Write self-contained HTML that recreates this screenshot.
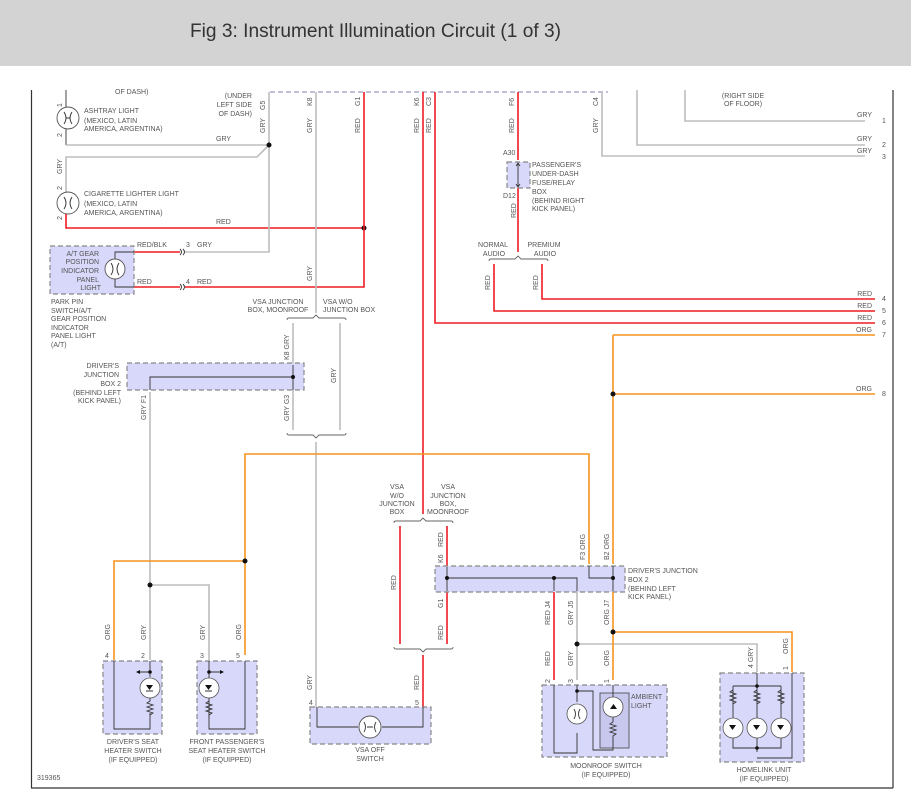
<!DOCTYPE html>
<html><head><meta charset="utf-8"><style>
html,body{margin:0;padding:0;background:#fff;}
svg{display:block;font-family:"Liberation Sans",sans-serif;}
.t{font-size:7px;fill:#555;}
.g{stroke:#bdbdbd;stroke-width:1.6;fill:none}
.r{stroke:#ee1c24;stroke-width:1.6;fill:none}
.o{stroke:#f7941d;stroke-width:1.6;fill:none}
.k{stroke:#333;stroke-width:0.9;fill:none}
.box{fill:#d8d8fa;stroke:#888;stroke-width:1.2;stroke-dasharray:5,3}
.br{stroke:#666;stroke-width:0.9;fill:none}
</style></head><body>
<svg width="911" height="803" viewBox="0 0 911 803" xmlns="http://www.w3.org/2000/svg">
<rect x="0" y="0" width="911" height="66" fill="#d3d3d3"/>
<text x="190" y="37" font-size="19" fill="#333" style="font-family:'Liberation Sans Narrow','Liberation Sans',sans-serif" textLength="371" lengthAdjust="spacingAndGlyphs">Fig 3: Instrument Illumination Circuit (1 of 3)</text>
<!-- borders -->
<line x1="31.5" y1="90" x2="31.5" y2="788" stroke="#333" stroke-width="1.2"/>
<line x1="893" y1="90" x2="893" y2="788" stroke="#333" stroke-width="1.2"/>
<line x1="31" y1="788" x2="893" y2="788" stroke="#333" stroke-width="1.2"/>
<line x1="270" y1="92" x2="608" y2="92" stroke="#9a9ac0" stroke-width="1.2" stroke-dasharray="5,3"/>

<!-- top-left labels -->
<text class="t" x="115" y="94">OF DASH)</text>
<text class="t" x="252" y="98" text-anchor="end">(UNDER</text>
<text class="t" x="252" y="107" text-anchor="end">LEFT SIDE</text>
<text class="t" x="252" y="116" text-anchor="end">OF DASH)</text>
<text class="t" x="743" y="98" text-anchor="middle">(RIGHT SIDE</text>
<text class="t" x="743" y="106" text-anchor="middle">OF FLOOR)</text>

<!-- ashtray -->
<path class="k" d="M66 90V107M66 129V145"/>
<circle cx="68" cy="118" r="11" fill="#fff" stroke="#555" stroke-width="0.9"/>
<path class="k" d="M64 112q4 6 0 12M72 112q-4 6 0 12M66 118h4"/>
<text class="t" x="84" y="113">ASHTRAY LIGHT</text>
<text class="t" x="84" y="123">(MEXICO, LATIN</text>
<text class="t" x="84" y="131">AMERICA, ARGENTINA)</text>
<text class="t" transform="translate(62,107) rotate(-90)">1</text>
<text class="t" transform="translate(62,137) rotate(-90)">2</text>
<path class="g" d="M66 145H269M269 145L257 157H66V192"/>
<text class="t" x="216" y="141">GRY</text>
<text class="t" transform="translate(62,174) rotate(-90)">GRY</text>
<circle cx="68" cy="203" r="11" fill="#fff" stroke="#555" stroke-width="0.9"/>
<path class="k" d="M64 197q4 6 0 12M72 197q-4 6 0 12"/>
<text class="t" transform="translate(62,190) rotate(-90)">2</text>
<text class="t" transform="translate(62,220) rotate(-90)">2</text>
<text class="t" x="84" y="196">CIGARETTE LIGHTER LIGHT</text>
<text class="t" x="84" y="206">(MEXICO, LATIN</text>
<text class="t" x="84" y="215">AMERICA, ARGENTINA)</text>
<path class="r" d="M66 214V228H364"/>
<text class="t" x="216" y="224">RED</text>
<circle cx="364" cy="228" r="2.5" fill="#111"/>

<!-- top verticals -->
<path class="g" d="M269 92V252H185"/>
<path class="r" d="M364 92V287H185"/>
<path class="r" d="M134 252H180M134 287H180"/>
<path class="g" d="M316 92V313"/>
<path class="r" d="M423 92V514"/>
<path class="r" d="M435 92V323H875"/>
<circle cx="269" cy="145" r="2.5" fill="#111"/>
<text class="t" transform="translate(265,110) rotate(-90)">G5</text>
<text class="t" transform="translate(265,133) rotate(-90)">GRY</text>
<text class="t" transform="translate(312,106) rotate(-90)">K8</text>
<text class="t" transform="translate(312,133) rotate(-90)">GRY</text>
<text class="t" transform="translate(360,106) rotate(-90)">G1</text>
<text class="t" transform="translate(360,133) rotate(-90)">RED</text>
<text class="t" transform="translate(419,106) rotate(-90)">K6</text>
<text class="t" transform="translate(419,133) rotate(-90)">RED</text>
<text class="t" transform="translate(431,106) rotate(-90)">C3</text>
<text class="t" transform="translate(431,133) rotate(-90)">RED</text>
<text class="t" transform="translate(312,281) rotate(-90)">GRY</text>

<!-- A/T gear -->
<rect class="box" x="50" y="246" width="84" height="48"/>
<path class="k" d="M134 252H115V259M115 277V287H134"/>
<circle cx="115" cy="269" r="10" fill="#fff" stroke="#555" stroke-width="0.9"/>
<path class="k" d="M111 263q4 6 0 12M119 263q-4 6 0 12"/>
<text class="t" x="99" y="256" text-anchor="end">A/T GEAR</text>
<text class="t" x="99" y="264" text-anchor="end">POSITION</text>
<text class="t" x="99" y="273" text-anchor="end">INDICATOR</text>
<text class="t" x="99" y="282" text-anchor="end">PANEL</text>
<text class="t" x="101" y="290" text-anchor="end">LIGHT</text>
<text class="t" x="137" y="247">RED/BLK</text>
<text class="t" x="137" y="284">RED</text>
<text class="t" x="186" y="247">3</text><text class="t" x="197" y="247">GRY</text>
<text class="t" x="186" y="284">4</text><text class="t" x="197" y="284">RED</text>
<path class="k" d="M180 249q3 3 0 6M183 249q3 3 0 6M180 284q3 3 0 6M183 284q3 3 0 6"/>
<text class="t" x="51" y="304">PARK PIN</text>
<text class="t" x="51" y="313">SWITCH/A/T</text>
<text class="t" x="51" y="321">GEAR POSITION</text>
<text class="t" x="51" y="330">INDICATOR</text>
<text class="t" x="51" y="338">PANEL LIGHT</text>
<text class="t" x="51" y="347">(A/T)</text>

<!-- VSA brace 1 -->
<text class="t" x="278" y="304" text-anchor="middle">VSA JUNCTION</text>
<text class="t" x="278" y="312" text-anchor="middle">BOX, MOONROOF</text>
<text class="t" x="323" y="304">VSA W/O</text>
<text class="t" x="323" y="312">JUNCTION BOX</text>
<path class="br" d="M287 320q0-2 2-2H313l3-3 3 3H344q2 0 2 2"/>
<path class="g" d="M293 323V363M293 390V430M340 323V430"/>
<text class="t" transform="translate(289,360) rotate(-90)">K8 GRY</text>
<text class="t" transform="translate(289,421) rotate(-90)">GRY G3</text>
<text class="t" transform="translate(336,383) rotate(-90)">GRY</text>
<path class="br" d="M287 433q0 2 2 2H313l3 3 3-3H344q2 0 2-2"/>
<path class="g" d="M316 442V707"/>

<!-- Driver's JB2 left -->
<rect class="box" x="127" y="363" width="177" height="27"/>
<path class="k" d="M150 390V377H293M293 365V390"/>
<circle cx="293" cy="377" r="2" fill="#111"/>
<text class="t" x="119" y="368" text-anchor="end">DRIVER'S</text>
<text class="t" x="119" y="377" text-anchor="end">JUNCTION</text>
<text class="t" x="121" y="386" text-anchor="end">BOX 2</text>
<text class="t" x="121" y="395" text-anchor="end">(BEHIND LEFT</text>
<text class="t" x="121" y="403" text-anchor="end">KICK PANEL)</text>
<path class="g" d="M150 392V660M150 585H209V660"/>
<text class="t" transform="translate(146,420) rotate(-90)">GRY F1</text>
<circle cx="150" cy="585" r="2.5" fill="#111"/>

<!-- Right side wires -->
<path class="g" d="M685 90V121H865"/>
<path class="g" d="M637 90V145H865"/>
<path class="g" d="M602 92V156H865"/>
<text class="t" transform="translate(598,106) rotate(-90)">C4</text>
<text class="t" transform="translate(598,133) rotate(-90)">GRY</text>
<text class="t" x="872" y="117" text-anchor="end">GRY</text>
<text class="t" x="872" y="141" text-anchor="end">GRY</text>
<text class="t" x="872" y="153" text-anchor="end">GRY</text>
<text class="t" x="882" y="123">1</text>
<text class="t" x="882" y="147">2</text>
<text class="t" x="882" y="159">3</text>
<path class="r" d="M518 92V160M518 188V252"/>
<text class="t" transform="translate(514,106) rotate(-90)">F6</text>
<text class="t" transform="translate(514,133) rotate(-90)">RED</text>
<rect class="box" x="507" y="162" width="23" height="26"/>
<path class="k" d="M518 163V187M516 166l2-3 2 3M516 184l2 3 2-3"/>
<text class="t" x="503" y="155">A30</text>
<text class="t" x="503" y="198">D12</text>
<text class="t" transform="translate(516,218) rotate(-90)">RED</text>
<text class="t" x="532" y="167">PASSENGER'S</text>
<text class="t" x="532" y="176">UNDER-DASH</text>
<text class="t" x="532" y="185">FUSE/RELAY</text>
<text class="t" x="532" y="194">BOX</text>
<text class="t" x="532" y="203">(BEHIND RIGHT</text>
<text class="t" x="532" y="211">KICK PANEL)</text>
<text class="t" x="493" y="247" text-anchor="middle">NORMAL</text>
<text class="t" x="494" y="256" text-anchor="middle">AUDIO</text>
<text class="t" x="544" y="247" text-anchor="middle">PREMIUM</text>
<text class="t" x="545" y="256" text-anchor="middle">AUDIO</text>
<path class="br" d="M489 261q0-2 2-2H515l3-3 3 3H546q2 0 2 2"/>
<path class="r" d="M494 264V311H875M542 264V299H875"/>
<text class="t" transform="translate(490,290) rotate(-90)">RED</text>
<text class="t" transform="translate(538,290) rotate(-90)">RED</text>
<text class="t" x="872" y="296" text-anchor="end">RED</text>
<text class="t" x="872" y="308" text-anchor="end">RED</text>
<text class="t" x="872" y="320" text-anchor="end">RED</text>
<text class="t" x="872" y="332" text-anchor="end">ORG</text>
<text class="t" x="872" y="391" text-anchor="end">ORG</text>
<text class="t" x="882" y="301">4</text>
<text class="t" x="882" y="313">5</text>
<text class="t" x="882" y="325">6</text>
<text class="t" x="882" y="337">7</text>
<text class="t" x="882" y="396">8</text>
<path class="o" d="M613 335H875M613 335V564M613 394H875"/>
<circle cx="613" cy="394" r="2.5" fill="#111"/>

<!-- orange left network -->
<path class="o" d="M589 564V454H245V655M245 561H114V660"/>
<circle cx="245" cy="561" r="2.5" fill="#111"/>
<text class="t" transform="translate(110,640) rotate(-90)">ORG</text>
<text class="t" transform="translate(146,640) rotate(-90)">GRY</text>
<text class="t" transform="translate(205,640) rotate(-90)">GRY</text>
<text class="t" transform="translate(241,640) rotate(-90)">ORG</text>
<text class="t" x="105" y="658">4</text><text class="t" x="141" y="658">2</text>
<text class="t" x="200" y="658">3</text><text class="t" x="236" y="658">5</text>

<!-- seat heater boxes -->
<rect class="box" x="103" y="661" width="59" height="73"/>
<path class="k" d="M114 661V729H150V713M150 661V672H138M150 672V677"/>
<path d="M136 672l4-2v4z" fill="#111"/><circle cx="150" cy="672" r="1.8" fill="#111"/>
<circle cx="150" cy="688" r="10" fill="#fff" stroke="#555" stroke-width="0.8"/>
<path d="M146 685h7l-3.5 5z" fill="#111"/><path class="k" d="M146 691h7M150 698v3l-3 2 6 2-6 2 6 2-6 2 6 2-3 2"/>
<text class="t" x="133" y="744" text-anchor="middle">DRIVER'S SEAT</text>
<text class="t" x="133" y="753" text-anchor="middle">HEATER SWITCH</text>
<text class="t" x="133" y="762" text-anchor="middle">(IF EQUIPPED)</text>
<rect class="box" x="197" y="661" width="60" height="73"/>
<path class="k" d="M209 661V672H221M209 672V678M209 698V729H245V661"/>
<path d="M224 672l-4-2v4z" fill="#111"/><circle cx="209" cy="672" r="1.8" fill="#111"/>
<circle cx="209" cy="688" r="10" fill="#fff" stroke="#555" stroke-width="0.8"/>
<path d="M205 685h7l-3.5 5z" fill="#111"/><path class="k" d="M205 691h7M209 701l-3 2 6 2-6 2 6 2-6 2 6 2-3 2v4"/>
<text class="t" x="227" y="744" text-anchor="middle">FRONT PASSENGER'S</text>
<text class="t" x="227" y="753" text-anchor="middle">SEAT HEATER SWITCH</text>
<text class="t" x="227" y="762" text-anchor="middle">(IF EQUIPPED)</text>

<!-- VSA middle brace -->
<text class="t" x="397" y="489" text-anchor="middle">VSA</text>
<text class="t" x="397" y="498" text-anchor="middle">W/O</text>
<text class="t" x="397" y="506" text-anchor="middle">JUNCTION</text>
<text class="t" x="397" y="514" text-anchor="middle">BOX</text>
<text class="t" x="448" y="489" text-anchor="middle">VSA</text>
<text class="t" x="448" y="498" text-anchor="middle">JUNCTION</text>
<text class="t" x="448" y="506" text-anchor="middle">BOX,</text>
<text class="t" x="448" y="514" text-anchor="middle">MOONROOF</text>
<path class="br" d="M394 523q0-2 2-2H420l3-3 3 3H451q2 0 2 2"/>
<path class="r" d="M400 526V644M447 526V566M447 592V644"/>
<text class="t" transform="translate(396,590) rotate(-90)">RED</text>
<text class="t" transform="translate(443,547) rotate(-90)">RED</text>
<text class="t" transform="translate(443,563) rotate(-90)">K6</text>
<text class="t" transform="translate(443,608) rotate(-90)">G1</text>
<text class="t" transform="translate(443,640) rotate(-90)">RED</text>
<path class="br" d="M394 647q0 2 2 2H420l3 3 3-3H451q2 0 2-2"/>
<path class="r" d="M423 655V707"/>
<text class="t" transform="translate(419,690) rotate(-90)">RED</text>
<text class="t" transform="translate(312,690) rotate(-90)">GRY</text>
<text class="t" x="309" y="705">4</text><text class="t" x="415" y="705">5</text>
<rect class="box" x="310" y="707" width="121" height="37"/>
<path class="k" d="M317 707V727H358M382 727H423V707"/>
<circle cx="370" cy="727" r="11" fill="#fff" stroke="#555" stroke-width="0.9"/>
<path class="k" d="M364 722q3 5 0 10M376 722q-3 5 0 10M367 727h6"/>
<text class="t" x="370" y="752" text-anchor="middle">VSA OFF</text>
<text class="t" x="370" y="761" text-anchor="middle">SWITCH</text>

<!-- Driver's JB2 right -->
<rect class="box" x="435" y="566" width="190" height="26"/>
<path class="k" d="M447 567V591M447 578H577V591M554 578V591M589 566V578H613M613 566V591"/>
<circle cx="447" cy="578" r="2" fill="#111"/><circle cx="554" cy="578" r="2" fill="#111"/><circle cx="613" cy="578" r="2" fill="#111"/>
<text class="t" transform="translate(585,560) rotate(-90)">F3 ORG</text>
<text class="t" transform="translate(609,560) rotate(-90)">B2 ORG</text>
<text class="t" x="628" y="573">DRIVER'S JUNCTION</text>
<text class="t" x="628" y="582">BOX 2</text>
<text class="t" x="628" y="591">(BEHIND LEFT</text>
<text class="t" x="628" y="599">KICK PANEL)</text>
<path class="r" d="M554 592V680"/>
<path class="g" d="M577 592V680M577 644H757V672"/>
<path class="o" d="M613 592V680M613 632H792V672"/>
<circle cx="577" cy="644" r="2.5" fill="#111"/><circle cx="613" cy="632" r="2.5" fill="#111"/>
<text class="t" transform="translate(550,625) rotate(-90)">RED J4</text>
<text class="t" transform="translate(573,625) rotate(-90)">GRY J5</text>
<text class="t" transform="translate(609,625) rotate(-90)">ORG J7</text>
<text class="t" transform="translate(550,666) rotate(-90)">RED</text>
<text class="t" transform="translate(573,666) rotate(-90)">GRY</text>
<text class="t" transform="translate(609,666) rotate(-90)">ORG</text>
<text class="t" transform="translate(753,668) rotate(-90)">4 GRY</text>
<text class="t" transform="translate(788,654) rotate(-90)">ORG</text>
<text class="t" transform="translate(788,670) rotate(-90)">1</text>
<text class="t" transform="translate(550,683) rotate(-90)">2</text>
<text class="t" transform="translate(573,683) rotate(-90)">3</text>
<text class="t" transform="translate(609,683) rotate(-90)">1</text>

<rect class="box" x="542" y="685" width="125" height="72"/>
<rect x="600" y="693" width="29" height="55" fill="#c8c8ef" stroke="#444" stroke-width="0.8"/>
<path class="k" d="M554 685V753H577V733M577 685V702M577 691H593V750H613V740M613 685V697M613 717V722"/>
<circle cx="577" cy="691" r="1.8" fill="#111"/>
<circle cx="577" cy="714" r="10" fill="#fff" stroke="#555" stroke-width="0.8"/>
<path class="k" d="M574 709q3 5 0 10M580 709q-3 5 0 10"/>
<circle cx="613" cy="707" r="10" fill="#fff" stroke="#555" stroke-width="0.8"/>
<path d="M610 709h7l-3.5-5z" fill="#111"/>
<path class="k" d="M613 722l-3 2 6 2-6 2 6 2-6 2 6 2-3 2v6"/>
<text class="t" x="631" y="699">AMBIENT</text>
<text class="t" x="631" y="708">LIGHT</text>
<text class="t" x="606" y="768" text-anchor="middle">MOONROOF SWITCH</text>
<text class="t" x="606" y="777" text-anchor="middle">(IF EQUIPPED)</text>

<rect class="box" x="720" y="673" width="84" height="89"/>
<path class="k" d="M757 673V752M733 686H781M733 686V748H781V686M757 758H792V673"/>
<circle cx="757" cy="686" r="1.8" fill="#111"/><circle cx="757" cy="748" r="1.8" fill="#111"/>
<path class="k" d="M733 690l-3 2 6 2-6 2 6 2-6 2 6 2-3 2M757 690l-3 2 6 2-6 2 6 2-6 2 6 2-3 2M781 690l-3 2 6 2-6 2 6 2-6 2 6 2-3 2"/>
<circle cx="733" cy="728" r="10" fill="#fff" stroke="#555" stroke-width="0.8"/>
<circle cx="757" cy="728" r="10" fill="#fff" stroke="#555" stroke-width="0.8"/>
<circle cx="781" cy="728" r="10" fill="#fff" stroke="#555" stroke-width="0.8"/>
<path d="M729 725h7l-3.5 5zM753 725h7l-3.5 5zM777 725h7l-3.5 5z" fill="#111"/>
<text class="t" x="764" y="772" text-anchor="middle">HOMELINK UNIT</text>
<text class="t" x="764" y="781" text-anchor="middle">(IF EQUIPPED)</text>

<text class="t" x="37" y="780">319365</text>
</svg>
</body></html>
